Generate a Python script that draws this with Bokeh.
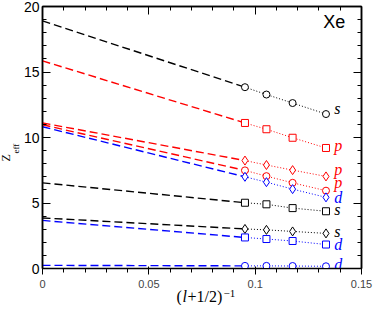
from bokeh.plotting import figure
from bokeh.models import LinearAxis, FixedTicker, CustomJSTickFormatter, Label, Range1d, Title
from bokeh.core.properties import value
from bokeh.embed import file_html
from bokeh.resources import INLINE

# x positions of the four markers: (l+1/2)^-1
x_marks = [0.0952, 0.1053, 0.1176, 0.1333]

# series: label letter, color, marker, intercept at x=0, marker values
names = ["s_circ", "p_sq", "p_dia", "p_circ", "d_dia", "s_sq", "s_dia", "d_sq", "d_circ"]
letters = ["s", "p", "p", "p", "d", "s", "s", "d", "d"]
colors = ["black", "red", "red", "red", "blue", "black", "black", "blue", "blue"]
markers = ["circle", "square", "diamond", "circle", "diamond", "square", "diamond", "square", "circle"]
intercepts = [18.9, 15.85, 11.11, 10.97, 10.82, 6.54, 3.86, 3.67, 0.24]
values = [
    [13.84, 13.28, 12.63, 11.79],
    [11.11, 10.63, 9.98, 9.20],
    [8.24, 7.90, 7.51, 7.03],
    [7.49, 7.05, 6.54, 5.94],
    [7.00, 6.59, 6.06, 5.43],
    [5.02, 4.90, 4.61, 4.37],
    [3.02, 2.95, 2.83, 2.68],
    [2.37, 2.25, 2.10, 1.83],
    [0.20, 0.20, 0.19, 0.17],
]
label_dy = [0.4, 0.2, 0.5, 0.65, 0.0, 0.1, 0.15, 0.0, 0.1]

x_major = [0, 0.05, 0.1, 0.15]
x_minor = [0.01, 0.02, 0.03, 0.04, 0.06, 0.07, 0.08, 0.09, 0.11, 0.12, 0.13, 0.14]
y_major = [0, 5, 10, 15, 20]
y_minor = [1, 2, 3, 4, 6, 7, 8, 9, 11, 12, 13, 14, 16, 17, 18, 19]

p = figure(width=374, height=305, x_range=Range1d(0, 0.15), y_range=Range1d(0, 20),
           output_backend="svg", toolbar_location=None,
           min_border_left=39, min_border_right=13, min_border_top=6, min_border_bottom=37)
p.grid.visible = False
p.outline_line_color = "black"
p.outline_line_width = 1.5

xt = FixedTicker(ticks=x_major, minor_ticks=x_minor)
yt = FixedTicker(ticks=y_major, minor_ticks=y_minor)
p.xaxis.ticker = xt
p.yaxis.ticker = yt
p.xaxis.formatter = CustomJSTickFormatter(code="return tick.toFixed(2).replace(/0+$/,'').replace(/\\.$/,'');")

top = LinearAxis(ticker=xt, formatter=CustomJSTickFormatter(code="return '';"))
right = LinearAxis(ticker=yt, formatter=CustomJSTickFormatter(code="return '';"))
p.add_layout(top, "above")
p.add_layout(right, "right")

for ax in [p.xaxis[0], p.yaxis[0], top, right]:
    ax.major_tick_in = 8
    ax.major_tick_out = 0
    ax.minor_tick_in = 4
    ax.minor_tick_out = 0
    ax.axis_line_width = 1.5
    ax.axis_line_color = "black"
    ax.major_tick_line_color = "black"
    ax.minor_tick_line_color = "black"
    ax.major_label_text_font = "Liberation Sans"
    ax.major_label_text_font_size = "14px"
    ax.major_label_text_color = "black"
    ax.major_label_standoff = 3
p.xaxis[0].major_label_standoff = 2
for ax in [top, right]:
    ax.major_label_text_font_size = "0px"
    ax.major_label_standoff = 0

for i in range(len(names)):
    c = colors[i]
    p.line([0, x_marks[0]], [intercepts[i], values[i][0]], line_color=c, line_width=1.4, line_dash="8 4")
    p.line(x_marks, values[i], line_color=c, line_width=1, line_dash="1 2")
    p.scatter(x_marks, values[i], marker=markers[i], size=9 if markers[i] == "diamond" else 7,
              line_color=c, fill_color="white", line_width=1)
    p.text([0.1372], [values[i][-1] + label_dy[i]], text=[letters[i]], text_color=c,
           text_font=value("Liberation Serif"), text_font_style="italic", text_font_size="16px",
           text_baseline="middle", text_align="left")

p.add_layout(Label(x=0.1372, y=18.8, text="Xe", text_font="Liberation Sans", text_font_size="18px",
                   text_align="center", text_baseline="middle", text_color="black"))


def side_title(text, size, style, offset, standoff):
    return Title(text=text, align="left", offset=offset, vertical_align="middle", standoff=standoff,
                 text_font="Liberation Serif", text_font_size=size, text_font_style=style,
                 text_color="black")


# y axis label Z_eff: stacked titles in the left panel
p.add_layout(side_title("eff", "9px", "normal", 115, -2), "left")
p.add_layout(side_title("Z", "12px", "normal", 107, -6), "left")

# x axis label (l+1/2)^-1: superscript first, then the overlapping main parts
p.add_layout(side_title("\u22121", "11px", "normal", 181, -3), "below")
p.add_layout(side_title("(", "16px", "normal", 134, -20), "below")
p.add_layout(side_title("l", "16px", "italic", 140, -20), "below")
p.add_layout(side_title("+1/2)", "16px", "normal", 145, -20), "below")

open("out.html", "w").write(file_html(p, INLINE))
